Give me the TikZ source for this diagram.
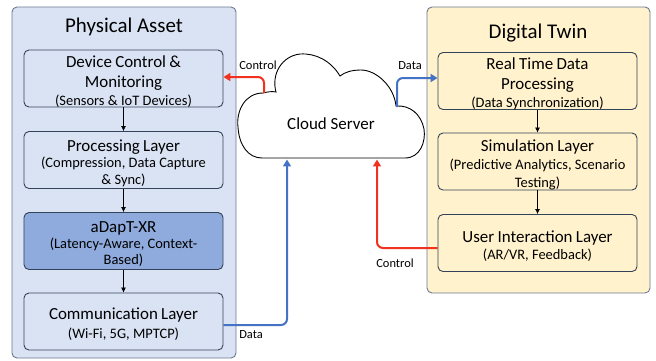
\documentclass[tikz,border=0pt]{standalone}
\usepackage{fontspec}
\setmainfont{Carlito}
\usepackage{xcolor}
\usepackage{tikz}
\usetikzlibrary{arrows.meta}
\definecolor{frame}{HTML}{344259}
\definecolor{outerframe}{HTML}{6B7890}
\definecolor{assetfill}{HTML}{DAE3F3}
\definecolor{adaptfill}{HTML}{8FAADC}
\definecolor{twinfill}{HTML}{FFF2CC}
\definecolor{ctrlred}{HTML}{F0321F}
\definecolor{datablue}{HTML}{4472C4}
% one line of a layer box, optional argument is the distance to the line above
\newcommand{\headtxt}[2][20]{{\fontsize{17}{#1}\selectfont #2\par}}
\newcommand{\subtxt}[2][17]{{\fontsize{14.5}{#1}\selectfont #2\par}}
\tikzstyle{group}=[draw=outerframe, line width=0.9pt, rounded corners=5pt, minimum width=224bp]
\tikzstyle{title}=[font=\fontsize{21}{25}\selectfont, inner sep=0pt]
\tikzstyle{layer}=[draw=frame, line width=0.9pt, rounded corners=5pt, minimum width=199bp, minimum height=57bp, inner sep=0pt]
\tikzstyle{layer text}=[inner sep=0pt, text width=199bp, align=center, yshift=-3bp]
\tikzstyle{label}=[font=\fontsize{12.5}{15}\selectfont, inner sep=0pt]
\tikzstyle{flow}=[-{Latex[length=5pt,width=5pt]}, line width=0.7pt, draw=black]
\tikzstyle{red edge}=[-{Triangle[length=7pt,width=8pt]}, line width=2pt, draw=ctrlred, rounded corners=6pt]
\tikzstyle{blue edge}=[-{Triangle[length=7pt,width=8pt]}, line width=2pt, draw=datablue, rounded corners=6pt]
\pgfdeclarelayer{nodelayer}
\pgfdeclarelayer{edgelayer}
\pgfsetlayers{nodelayer,edgelayer,main}

\begin{document}
\begin{tikzpicture}[x=1bp, y=-1bp]
    	\useasboundingbox (0,0) rectangle (656,360);
    	\begin{pgfonlayer}{nodelayer}
    		\node [style=group, fill=assetfill, minimum height=351bp] (pa) at (124,182.5) {};
    		\node [style=group, fill=twinfill, minimum width=223bp, minimum height=286bp] (dt) at (538.5,150) {};
    		\node [style=title] (pat) at (124,27) {Physical Asset};
    		\node [style=title] (dtt) at (538,33) {Digital Twin};
    		\node [style=layer, fill=assetfill] (1) at (123.5,78.5) {};
    		\node [style=layer, fill=assetfill] (2) at (123.5,160) {};
    		\node [style=layer, fill=adaptfill] (3) at (123.5,241) {};
    		\node [style=layer, fill=assetfill] (4) at (123.5,321.5) {};
    		\node [style=layer, fill=twinfill] (5) at (537.5,81) {};
    		\node [style=layer, fill=twinfill] (6) at (537.5,161.5) {};
    		\node [style=layer, fill=twinfill] (7) at (537.5,243) {};
    		\node [style=layer text] (1t) at (1) {\headtxt{Device Control \&}\headtxt{Monitoring}\subtxt[18]{(Sensors \& IoT Devices)}};
    		\node [style=layer text] (2t) at (2) {\headtxt{Processing Layer}\subtxt[16]{(Compression, Data Capture}\subtxt{\& Sync)}};
    		\node [style=layer text] (3t) at (3) {\headtxt{aDapT-XR}\subtxt[16]{(Latency-Aware, Context-}\subtxt[16]{Based)}};
    		\node [style=layer text] (4t) at (4) {\headtxt{Communication Layer}\subtxt[19]{(Wi-Fi, 5G, MPTCP)}};
    		\node [style=layer text] (5t) at (5) {\headtxt{Real Time Data}\headtxt{Processing}\subtxt[18]{(Data Synchronization)}};
    		\node [style=layer text] (6t) at (6) {\headtxt{Simulation Layer}\subtxt[18]{(Predictive Analytics, Scenario}\subtxt[18]{Testing)}};
    		\node [style=layer text] (7t) at (7) {\headtxt{User Interaction Layer}\subtxt[17]{(AR/VR, Feedback)}};
    		% cloud server
    		\draw [draw=black, fill=white, line width=0.9pt]
    			(263,93) .. controls (245,93) and (236,111) .. (238,127)
    			.. controls (239,145) and (248,158) .. (262,158)
    			-- (405,158)
    			.. controls (420,158) and (426,142) .. (424,129)
    			.. controls (421,114) and (410,105) .. (396,106)
    			.. controls (394,86) and (376,70) .. (361,70)
    			.. controls (352,70) and (345,72) .. (340,76)
    			.. controls (331,61) and (316,53) .. (300,54)
    			.. controls (282,56) and (271,74) .. (276,92)
    			.. controls (272,91) and (267,92) .. (263,93) -- cycle;
    		\node [font=\fontsize{17}{20}\selectfont, inner sep=0pt] (cs) at (331,124) {Cloud Server};
    		\coordinate (c1) at (264,93);
    		\coordinate (c2) at (397,107);
    		\coordinate (c3) at (287,159.5);
    		\coordinate (c4) at (377,159.5);
    		\node [style=label] (l1) at (258,65) {Control};
    		\node [style=label] (l2) at (410,66) {Data};
    		\node [style=label] (l3) at (251,335) {Data};
    		\node [style=label] (l4) at (395,263) {Control};
    	\end{pgfonlayer}
    	\begin{pgfonlayer}{edgelayer}
    		\draw [style=flow] (1) to (2);
    		\draw [style=flow] (2) to (3);
    		\draw [style=flow] (3) to (4);
    		\draw [style=flow] (5) to (6);
    		\draw [style=flow] (6) to (7);
    		\draw [style=red edge] (c1) |- ([yshift=1.5bp]1.east);
    		\draw [style=blue edge] (c2) |- ([yshift=3bp]5.west);
    		\draw [style=blue edge] ([yshift=-3.5bp]4.east) -| (c3);
    		\draw [style=red edge] ([yshift=-5bp]7.west) -| (c4);
    	\end{pgfonlayer}
    \end{tikzpicture}
\end{document}
